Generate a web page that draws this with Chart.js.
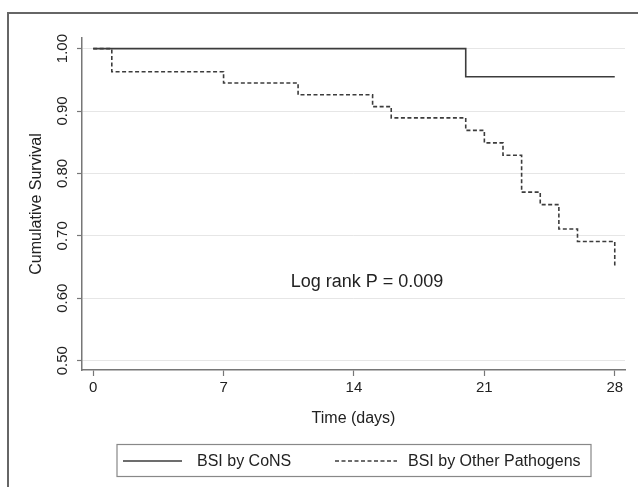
<!DOCTYPE html>
<html>
<head>
<meta charset="utf-8">
<script src="https://cdn.jsdelivr.net/npm/chart.js@4/dist/chart.umd.min.js"></script>
<style>
  html, body { margin: 0; padding: 0; background: #fff; }
  #wrap { width: 638px; height: 487px; position: relative; }
</style>
</head>
<body>
<div id="wrap"><canvas id="myChart" width="638" height="487"></canvas></div>
<script>
// Kaplan-Meier steps (day, survival)
const consDays = [0, 20, 28];
const consSurv = [1.00, 0.955, 0.955];

const otherDays = [0, 1, 7, 11, 15, 16, 20, 21, 22, 23, 24, 25, 26, 28];
const otherSurv = [1.00, 0.963, 0.945, 0.926, 0.907, 0.889, 0.869, 0.849, 0.829, 0.770, 0.750, 0.711, 0.691, 0.652];

const xTicks = [0, 7, 14, 21, 28];
const yTicks = [0.50, 0.60, 0.70, 0.80, 0.90, 1.00];

const seriesNames = ['BSI by CoNS', 'BSI by Other Pathogens'];
const noteText = 'Log rank P = 0.009';

function toPoints(xs, ys) {
    let pts = [];
    for (let i = 0; i < xs.length; i++) {
        pts.push({ x: xs[i], y: ys[i] });
    }
    return pts;
}

const FONT = "'Liberation Sans', Arial, Helvetica, sans-serif";
const LINE_COL = '#3c3c3c';

// frame, legend box and the log-rank note
const extras = {
    id: 'extras',
    beforeDraw(chart) {
        const ctx = chart.ctx;
        ctx.save();
        ctx.fillStyle = '#fff';
        ctx.fillRect(0, 0, chart.width, chart.height);
        ctx.strokeStyle = '#666';
        ctx.lineWidth = 2;
        ctx.beginPath();
        ctx.moveTo(8, chart.height);
        ctx.lineTo(8, 13);
        ctx.lineTo(chart.width, 13);
        ctx.stroke();
        ctx.restore();
    },
    afterDraw(chart) {
        const ctx = chart.ctx;
        const xs = chart.scales.x;
        const ys = chart.scales.y;
        ctx.save();
        ctx.fillStyle = '#222';
        ctx.font = '18px ' + FONT;
        ctx.textAlign = 'center';
        ctx.textBaseline = 'middle';
        ctx.fillText(noteText, xs.getPixelForValue(14.7), ys.getPixelForValue(0.626));

        // legend
        ctx.strokeStyle = '#888';
        ctx.lineWidth = 1.2;
        ctx.strokeRect(117, 444.5, 474, 32);
        const items = [
            { x0: 123, x1: 182, tx: 197 },
            { x0: 335, x1: 397, tx: 408 }
        ];
        chart.data.datasets.forEach((ds, i) => {
            const it = items[i];
            const ly = 461;
            ctx.strokeStyle = ds.borderColor;
            ctx.lineWidth = ds.borderWidth;
            ctx.setLineDash(ds.borderDash || []);
            ctx.beginPath();
            ctx.moveTo(it.x0, ly);
            ctx.lineTo(it.x1, ly);
            ctx.stroke();
            ctx.setLineDash([]);
            ctx.fillStyle = '#222';
            ctx.font = '16px ' + FONT;
            ctx.textAlign = 'left';
            ctx.textBaseline = 'middle';
            ctx.fillText(ds.label, it.tx, ly + 1);
        });
        ctx.restore();
    }
};

var ctx = document.getElementById('myChart');
var myChart = new Chart(ctx, {
    type: 'line',
    data: {
        datasets: [{
            label: seriesNames[0],
            data: toPoints(consDays, consSurv),
            borderColor: LINE_COL,
            borderWidth: 1.6,
            stepped: 'before',
            pointRadius: 0,
            fill: false
        },
        {
            label: seriesNames[1],
            data: toPoints(otherDays, otherSurv),
            borderColor: LINE_COL,
            borderWidth: 1.6,
            borderDash: [4, 2.5],
            stepped: 'before',
            pointRadius: 0,
            fill: false
        }]
    },
    options: {
        responsive: false,
        animation: false,
        layout: {
            padding: { left: 10, top: 38, right: 13, bottom: 55 }
        },
        plugins: {
            legend: { display: false },
            tooltip: { enabled: false }
        },
        scales: {
            x: {
                type: 'linear',
                min: -0.6,
                max: 28.55,
                afterBuildTicks: (scale) => { scale.ticks = xTicks.map(v => ({ value: v })); },
                afterFit: (scale) => { scale.height = 62; },
                grid: { drawOnChartArea: false, drawTicks: true, tickLength: 6, tickColor: '#777', tickWidth: 1.2 },
                border: { display: true, color: '#777', width: 1.5 },
                ticks: { color: '#222', font: { family: FONT, size: 15 }, padding: 3, maxRotation: 0 },
                title: { display: true, text: 'Time (days)', color: '#222', font: { family: FONT, size: 16 }, padding: { top: 0, bottom: 4 } }
            },
            y: {
                min: 0.485,
                max: 1.017,
                afterBuildTicks: (scale) => { scale.ticks = yTicks.map(v => ({ value: v })); },
                afterFit: (scale) => { scale.width = 72; },
                grid: { color: '#e6e6e6', lineWidth: 1, drawTicks: true, tickLength: 5, tickColor: '#777', tickWidth: 1.2 },
                border: { display: true, color: '#777', width: 1.5 },
                ticks: {
                    color: '#222',
                    font: { family: FONT, size: 15 },
                    minRotation: 90,
                    maxRotation: 90,
                    crossAlign: 'center',
                    padding: 0,
                    callback: (v) => v.toFixed(2)
                },
                title: { display: true, text: 'Cumulative Survival', color: '#222', font: { family: FONT, size: 16 }, padding: { top: 17, bottom: 0 } }
            }
        }
    },
    plugins: [extras]
});
</script>
</body>
</html>
